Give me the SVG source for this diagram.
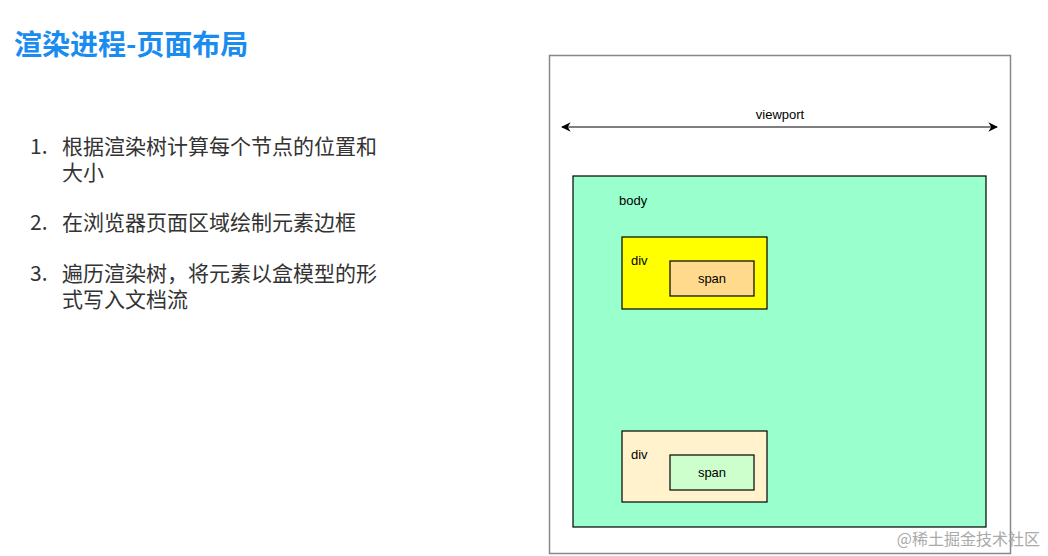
<svg xmlns="http://www.w3.org/2000/svg" width="1048" height="556" viewBox="0 0 1048 556">
<style>
.t{font-family:"Noto Sans CJK SC","Noto Sans",sans-serif;font-size:21px;fill:#333}
.s{font-family:"Liberation Sans",Arial,sans-serif;font-size:13px;fill:#000}
.b{stroke:#000;stroke-width:1.2}
</style>
<defs><marker id="a" viewBox="0 0 10 10" refX="9" refY="5" markerWidth="8" markerHeight="8" orient="auto-start-reverse"><path d="M0,0L10,5L0,10L3,5z" fill="#000"/></marker></defs>
<rect width="1048" height="556" fill="#fff"/>
<text x="14" y="55" font-family="Noto Sans CJK SC,sans-serif" font-size="28" font-weight="bold" fill="#1a8cf0">渲染进程-页面布局</text>
<g id="list">
<text class="t" x="30" y="154">1.</text><text class="t" x="62" y="154">根据渲染树计算每个节点的位置和</text>
<text class="t" x="62" y="180">大小</text>
<text class="t" x="30" y="230">2.</text><text class="t" x="62" y="230">在浏览器页面区域绘制元素边框</text>
<text class="t" x="30" y="281">3.</text><text class="t" x="62" y="281">遍历渲染树，将元素以盒模型的形</text>
<text class="t" x="62" y="307">式写入文档流</text>
</g>
<g id="frame"><rect x="549.5" y="55.5" width="461" height="498" fill="#fff" stroke="#888" stroke-width="1.5"/></g>
<g id="connectors"><line x1="562" y1="127" x2="997" y2="127" stroke="#000" stroke-width="1.2" marker-start="url(#a)" marker-end="url(#a)"/></g>
<text class="s" x="780" y="119" text-anchor="middle">viewport</text>
<g id="body"><rect class="b" x="573" y="176" width="413" height="351" fill="#99ffcc"/><text class="s" x="619" y="205">body</text></g>
<g id="div1"><rect class="b" x="622" y="237" width="145" height="72" fill="#ffff00"/><text class="s" x="631" y="265">div</text></g>
<g id="span1"><rect class="b" x="670" y="261" width="84" height="35" fill="#ffd98c"/><text class="s" x="712" y="283" text-anchor="middle">span</text></g>
<g id="div2"><rect class="b" x="622" y="431" width="145" height="71" fill="#fff2cc"/><text class="s" x="631" y="459">div</text></g>
<g id="span2"><rect class="b" x="670" y="455" width="84" height="35" fill="#ccffcc"/><text class="s" x="712" y="477" text-anchor="middle">span</text></g>
<text x="1040" y="545" text-anchor="end" font-family="Noto Sans CJK SC,sans-serif" font-size="16" fill="#aaa">@稀土掘金技术社区</text>
</svg>
